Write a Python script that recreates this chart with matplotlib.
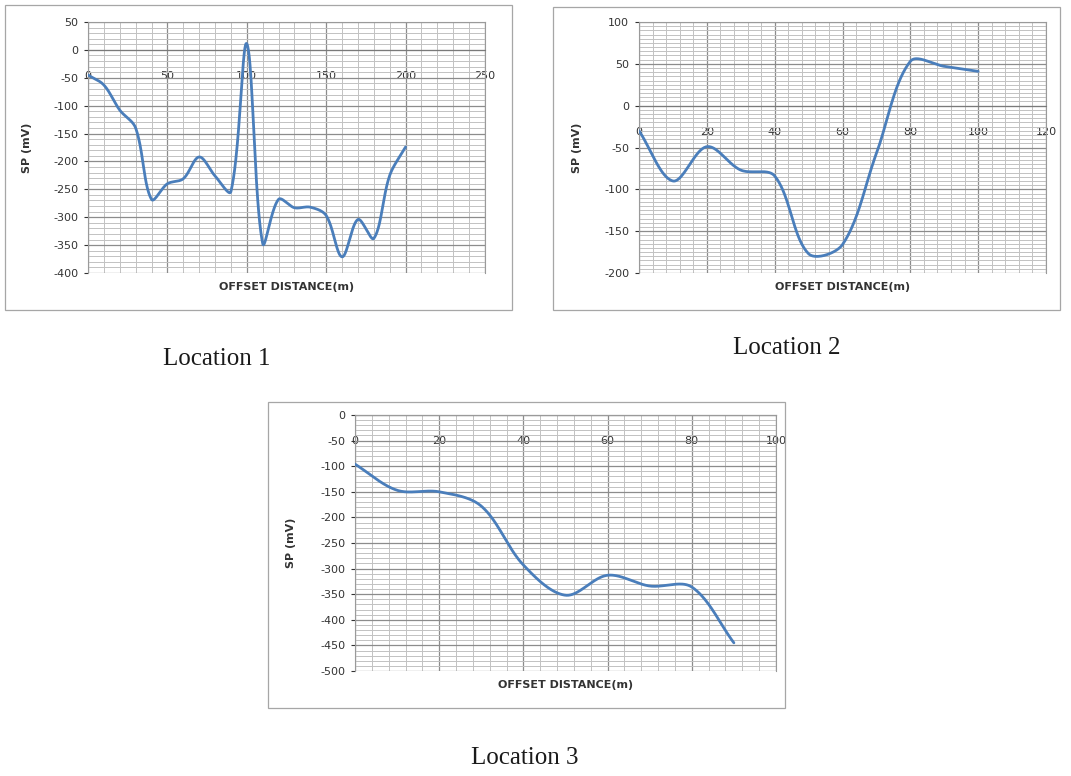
import numpy as np
import matplotlib
matplotlib.use("Agg")
import matplotlib.pyplot as plt
from matplotlib.patches import Rectangle
from matplotlib.ticker import MultipleLocator

plt.rcParams["axes.unicode_minus"] = False

# SP profiles (offset m, SP mV)
loc1_x = [0, 10, 20, 30, 40, 50, 60, 70, 80, 90, 100, 110, 120, 130, 140, 150, 160, 170, 180, 190, 200]
loc1_sp = [-45, -63, -108, -140, -268, -240, -231, -192, -226, -254, 11, -347, -268, -283, -282, -297, -371, -304, -338, -225, -174]

loc2_x = [0, 10, 20, 30, 40, 50, 60, 70, 80, 90, 100]
loc2_sp = [-30, -90, -49, -77, -84, -177, -166, -57, 53, 47, 41]

loc3_x = [0, 10, 20, 30, 40, 50, 60, 70, 80, 90]
loc3_sp = [-96, -147, -150, -178, -293, -352, -313, -334, -336, -445]

LINE = "#4a7ebb"


def smooth(x, y, kx, ky, n=40):
    # Excel-like smoothed line: bezier handles scaled by neighbouring chord lengths (in pixels)
    P = np.column_stack([np.asarray(x, float) * kx, np.asarray(y, float) * ky])
    m = len(P)
    cout = np.zeros_like(P)
    cin = np.zeros_like(P)
    for i in range(m):
        a = P[max(i - 1, 0)]
        b = P[min(i + 1, m - 1)]
        d = b - a
        lp = np.hypot(*(P[i] - a))
        ln = np.hypot(*(b - P[i]))
        tot = lp + ln if lp + ln > 0 else 1
        cout[i] = P[i] + d * ln / tot / 3
        cin[i] = P[i] - d * lp / tot / 3
    t = np.linspace(0, 1, n)[:, None]
    segs = []
    for i in range(m - 1):
        p0, p1, p2, p3 = P[i], cout[i], cin[i + 1], P[i + 1]
        segs.append((1 - t) ** 3 * p0 + 3 * (1 - t) ** 2 * t * p1 + 3 * (1 - t) * t ** 2 * p2 + t ** 3 * p3)
    B = np.vstack(segs)
    return B[:, 0] / kx, B[:, 1] / ky


def sp_chart(fig, rect, x, y, xmax, xmaj, xmin, ymin, ymax, ymaj, ymnr):
    ax = fig.add_axes(rect)
    kx = rect[2] * W / xmax
    ky = rect[3] * H / (ymax - ymin)
    sx, sy = smooth(x, y, kx, ky)
    ax.plot(sx, sy, color=LINE, lw=2.0, zorder=5, solid_capstyle="round")
    ax.set_xlim(0, xmax)
    ax.set_ylim(ymin, ymax)
    ax.xaxis.set_major_locator(MultipleLocator(xmaj))
    ax.xaxis.set_minor_locator(MultipleLocator(xmin))
    ax.yaxis.set_major_locator(MultipleLocator(ymaj))
    ax.yaxis.set_minor_locator(MultipleLocator(ymnr))
    ax.grid(which="major", color="#8c8c8c", lw=0.9)
    ax.grid(which="minor", color="#c2c2c2", lw=0.7)
    ax.set_axisbelow(True)
    for s in ["top", "right", "left"]:
        ax.spines[s].set_color("#9a9a9a")
        ax.spines[s].set_linewidth(0.8)
    ax.spines["bottom"].set_position(("data", 0))
    ax.spines["bottom"].set_color("#7a7a7a")
    ax.tick_params(axis="x", which="both", length=0, pad=15, labelsize=8, colors="#333333")
    ax.tick_params(axis="y", which="major", length=3, pad=4, labelsize=8, colors="#333333")
    ax.tick_params(axis="y", which="minor", length=0)
    ax.set_xlabel("OFFSET DISTANCE(m)", fontsize=8, fontweight="bold", color="#333333")
    ax.xaxis.set_label_coords(0.5, -0.035)
    ax.set_ylabel("SP (mV)", fontsize=8, fontweight="bold", color="#333333")
    ax.yaxis.set_label_coords(-0.14, 0.5)
    return ax


W, H = 1071, 776
fig = plt.figure(figsize=(W / 100, H / 100), dpi=100)
fig.patch.set_facecolor("white")


def frac(l, t, r, b):
    return [l / W, 1 - b / H, (r - l) / W, (b - t) / H]


# chart frames
for l, t, r, b in [(5, 5, 512, 310), (553, 7, 1060, 310), (268, 402, 785, 708)]:
    fig.add_artist(Rectangle((l / W, 1 - b / H), (r - l) / W, (b - t) / H,
                             transform=fig.transFigure, fill=False, ec="#a6a6a6", lw=0.9))

sp_chart(fig, frac(88, 22, 485, 273), loc1_x, loc1_sp, 250, 50, 10, -400, 50, 50, 10)
sp_chart(fig, frac(639, 22, 1046, 273), loc2_x, loc2_sp, 120, 20, 4, -200, 100, 50, 5)
sp_chart(fig, frac(355, 415, 776, 671), loc3_x, loc3_sp, 100, 20, 4, -500, 0, 50, 10)

for txt, cx, cy in [("Location 1", 217, 359), ("Location 2", 787, 348), ("Location 3", 525, 758)]:
    fig.text(cx / W, 1 - cy / H, txt, ha="center", va="center",
             family="Liberation Serif", fontsize=18, color="#1a1a1a")

fig.savefig("out.png", dpi=100, facecolor="white")
